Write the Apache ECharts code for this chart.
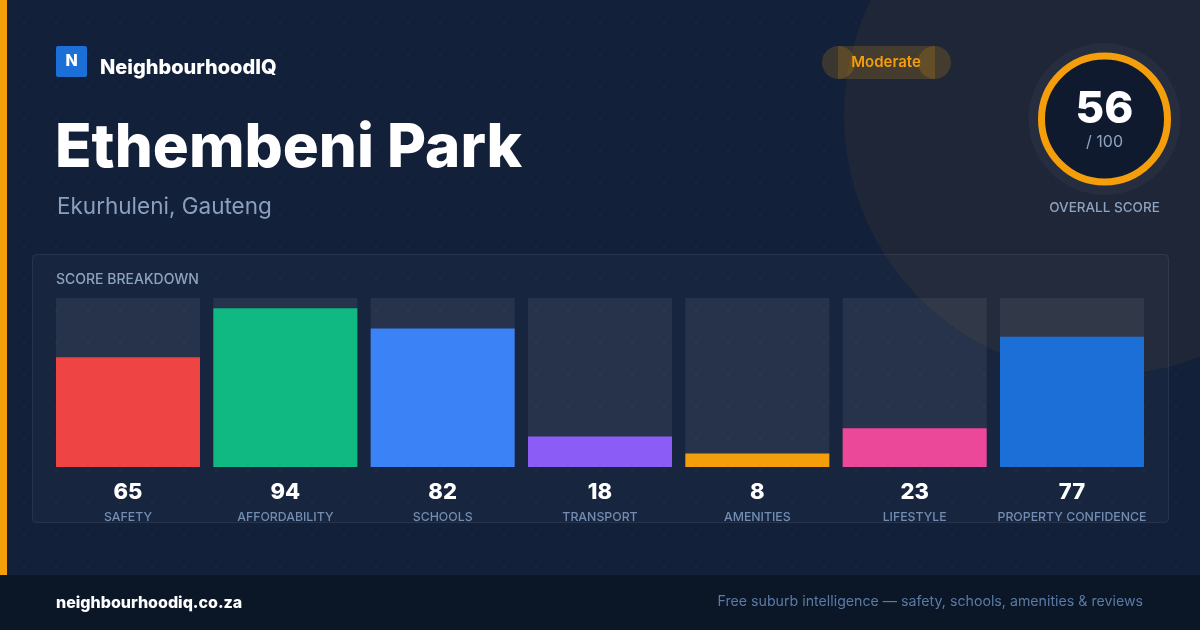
<!DOCTYPE html>
<html>
<head>
<meta charset="utf-8">
<script src="https://cdn.jsdelivr.net/npm/echarts@6/dist/echarts.min.js"></script>
<style>
html,body{margin:0;padding:0;background:#12203a;}
#chart{width:1200px;height:630px;}
</style>
</head>
<body>
<div id="chart"></div>
<script>
// ---- data ----
const categories = ['SAFETY', 'AFFORDABILITY', 'SCHOOLS', 'TRANSPORT', 'AMENITIES', 'LIFESTYLE', 'PROPERTY CONFIDENCE'];
const scores = [65, 94, 82, 18, 8, 23, 77];
const barColors = ['#ef4444', '#10b981', '#3b82f6', '#8b5cf6', '#f59e0b', '#ec4899', '#1d6fd8'];
const overallScore = 56;
const overallMax = 100;
const ratingLabel = 'Moderate';
const suburbName = 'Ethembeni Park';
const suburbRegion = 'Ekurhuleni, Gauteng';

const FONT = 'Inter, "Noto Sans", sans-serif';

function txt(x, y, text, font, fill, align, z) {
  return {
    type: 'text', x: x, y: y, z: z || 20, silent: true,
    style: {
      text: text, font: font, fill: fill,
      align: align || 'left', textAlign: align || 'left',
      verticalAlign: 'middle', textVerticalAlign: 'middle'
    }
  };
}

const graphics = [];
// big decorative circle
graphics.push({ type: 'circle', z: 0, silent: true, shape: { cx: 1104, cy: 115, r: 260 }, style: { fill: '#1e2638' } });
// dot grid
for (let gx = 24; gx < 1200; gx += 32) {
  for (let gy = 23; gy < 575; gy += 32) {
    graphics.push({ type: 'circle', z: 1, silent: true, shape: { cx: gx, cy: gy, r: 1 }, style: { fill: 'rgba(255,255,255,0.045)' } });
  }
}
// footer + strip
graphics.push({ type: 'rect', z: 2, silent: true, shape: { x: 0, y: 575, width: 1200, height: 55 }, style: { fill: '#0b1627' } });
graphics.push({ type: 'rect', z: 2, silent: true, shape: { x: 0, y: 0, width: 7, height: 575 }, style: { fill: '#f59e0b' } });
// panel
graphics.push({ type: 'rect', z: 2, silent: true, shape: { x: 32.5, y: 254.5, width: 1136, height: 268, r: 4 }, style: { fill: 'rgba(255,255,255,0.025)', stroke: 'rgba(255,255,255,0.08)', lineWidth: 1 } });
// logo
graphics.push({ type: 'rect', z: 3, silent: true, shape: { x: 56, y: 46, width: 31, height: 31, r: 2 }, style: { fill: '#1d6fd8' } });
graphics.push(txt(71.5, 61.5, 'N', '800 16px ' + FONT, '#ffffff', 'center'));
graphics.push(txt(100, 68, 'NeighbourhoodIQ', '800 20px ' + FONT, '#ffffff', 'left'));
// title
graphics.push(txt(55, 149, suburbName, '800 60px ' + FONT, '#ffffff', 'left'));
graphics.push(txt(57, 207, suburbRegion, '22.5px ' + FONT, '#8aa0be', 'left'));
// badge
graphics.push({ type: 'rect', z: 3, silent: true, shape: { x: 838, y: 46, width: 97, height: 33 }, style: { fill: 'rgba(245,158,11,0.18)' } });
graphics.push({ type: 'circle', z: 3, silent: true, shape: { cx: 838.5, cy: 62.5, r: 16.5 }, style: { fill: 'rgba(245,158,11,0.18)' } });
graphics.push({ type: 'circle', z: 3, silent: true, shape: { cx: 934.5, cy: 62.5, r: 16.5 }, style: { fill: 'rgba(245,158,11,0.18)' } });
graphics.push(txt(886, 62, ratingLabel, '600 15px ' + FONT, '#f59e0b', 'center'));
// gauge
graphics.push({ type: 'circle', z: 3, silent: true, shape: { cx: 1104.5, cy: 119, r: 76 }, style: { fill: '#262d3e' } });
graphics.push({ type: 'circle', z: 4, silent: true, shape: { cx: 1104.5, cy: 119, r: 63 }, style: { fill: '#0f1a2e', stroke: '#f59e0b', lineWidth: 7 } });
graphics.push(txt(1104.5, 110, String(overallScore), '800 44px ' + FONT, '#ffffff', 'center'));
graphics.push(txt(1104.5, 142, '/ ' + overallMax, '16px ' + FONT, '#8ea3bf', 'center'));
graphics.push(txt(1104.5, 208, 'OVERALL SCORE', '500 13.5px ' + FONT, '#8ea3bf', 'center'));
// panel title
graphics.push(txt(56, 280, 'SCORE BREAKDOWN', '500 14px ' + FONT, '#8ea3bf', 'left'));
// footer texts
graphics.push(txt(56, 603, 'neighbourhoodiq.co.za', '800 16px ' + FONT, '#ffffff', 'left'));
graphics.push(txt(1143, 602, 'Free suburb intelligence \u2014 safety, schools, amenities & reviews', '14.2px ' + FONT, '#5a7ba6', 'right'));

const chart = echarts.init(document.getElementById('chart'), null, { renderer: 'canvas' });
chart.setOption({
  backgroundColor: '#12203a',
  animation: false,
  textStyle: { fontFamily: FONT },
  graphic: { elements: graphics },
  grid: { left: 49.33, right: 49.33, top: 298, bottom: 163, containLabel: false },
  xAxis: {
    type: 'category',
    data: categories,
    axisLine: { show: false },
    axisTick: { show: false },
    splitLine: { show: false },
    axisLabel: {
      interval: 0,
      margin: 13,
      formatter: function (value, index) {
        return '{v|' + scores[index] + '}\n{n|' + value + '}';
      },
      rich: {
        v: { fontSize: 22, fontWeight: 800, color: '#ffffff', lineHeight: 24, fontFamily: FONT },
        n: { fontSize: 12.3, fontWeight: 500, color: '#6f8bb0', lineHeight: 26, fontFamily: FONT }
      }
    }
  },
  yAxis: { type: 'value', min: 0, max: 100, show: false },
  series: [{
    type: 'bar',
    z: 5,
    barWidth: 144,
    showBackground: true,
    backgroundStyle: { color: 'rgba(255,255,255,0.067)' },
    data: scores.map(function (v, i) { return { value: v, itemStyle: { color: barColors[i] } }; })
  }]
});
</script>
</body>
</html>
